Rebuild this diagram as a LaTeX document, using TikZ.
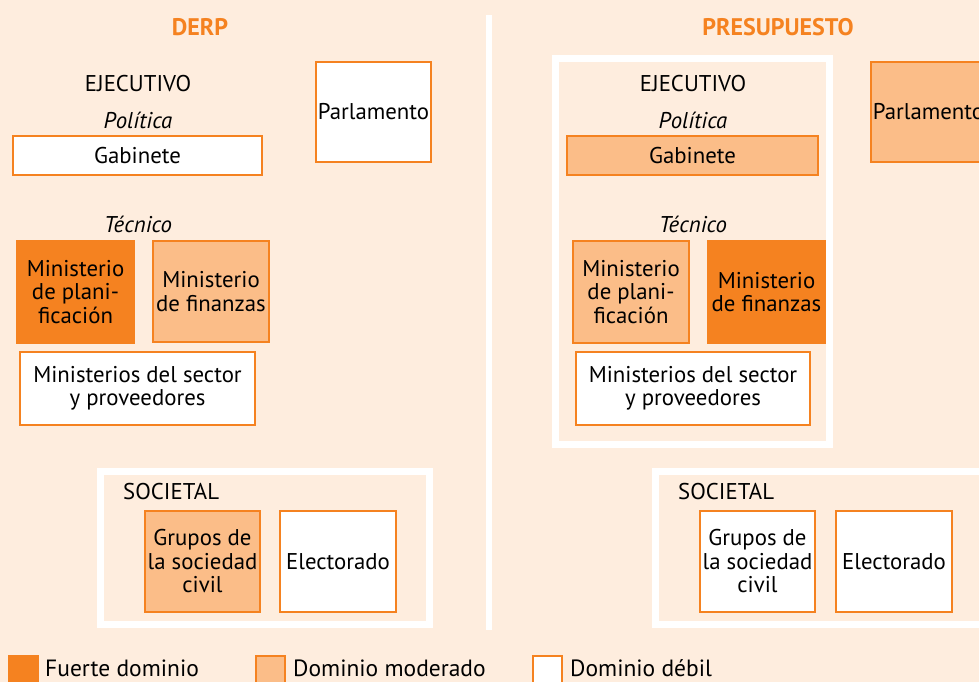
\documentclass[tikz,border=0pt]{standalone}
\usepackage{fontspec}
\setmainfont{PT Sans}
\definecolor{bgpeach}{HTML}{FEEDDE}
\definecolor{strong}{HTML}{F58220}
\definecolor{moderate}{HTML}{FBBD88}
\begin{document}
\begin{tikzpicture}[x=1pt,y=-1pt,
  txt/.style={font=\fontsize{22.8}{23.5}\selectfont, inner sep=0pt},
  ital/.style={txt, font=\fontsize{22.8}{23.5}\selectfont\itshape},
  legtxt/.style={font=\fontsize{23.5}{24}\selectfont, inner sep=0pt},
  ttl/.style={font=\fontsize{24}{26}\selectfont\bfseries, text=strong, inner sep=0pt},
  box/.style={draw=strong, line width=2.2pt, inner sep=0pt, align=center,
    font=\fontsize{22.8}{23.5}\selectfont},
  weakbox/.style={box, fill=white},
  modbox/.style={box, fill=moderate},
  strongbox/.style={box, fill=strong},
  frame/.style={draw=white, line width=7pt},
  legsq/.style={draw=strong, line width=2pt, minimum size=29pt, inner sep=0pt},
]
\useasboundingbox (0,0) rectangle (979,682);
\fill[bgpeach] (0,0) rectangle (979,682);
\clip (0,0) rectangle (979,682);

% separator
\draw[white, line width=6pt] (489,15) coordinate (sepA) -- (489,630) coordinate (sepB);

% titles
\node[ttl] (tDERP) at (200,27) {DERP};
\node[ttl] (tPRES) at (778,27) {PRESUPUESTO};

% ---------- LEFT (DERP) ----------
\node[txt] (lEje) at (138,84) {EJECUTIVO};
\node[ital] (lPol) at (138,120) {Política};
\node[weakbox, minimum width=249pt, minimum height=39pt] (lGab) at (137.5,155.5) {Gabinete};
\node[weakbox, minimum width=115pt, minimum height=100pt] (lParl) at (373.5,112) {Parlamento};
\node[ital] (lTec) at (138,224) {Técnico};
\node[strongbox, minimum width=117pt, minimum height=102pt] (lPlan) at (75.5,292) {Ministerio\\de plani-\\ficación};
\node[modbox, minimum width=116pt, minimum height=101pt] (lFin) at (211,291.5) {Ministerio\\de finanzas};
\node[weakbox, minimum width=235pt, minimum height=73pt] (lSec) at (137.5,388.5) {Ministerios del sector\\y proveedores};

\draw[frame] (100.5,471.5) rectangle (429.5,624.5);
\node[txt, anchor=west] (lSoc) at (123,492) {SOCIETAL};
\node[modbox, minimum width=115pt, minimum height=101pt] (lGru) at (202.5,561.5) {Grupos de\\la sociedad\\civil};
\node[weakbox, minimum width=116pt, minimum height=101pt] (lEle) at (338,561.5) {Electorado};

% ---------- RIGHT (PRESUPUESTO) ----------
\draw[frame] (555.5,58.5) rectangle (829.5,444.5);
\node[txt] (rEje) at (693,84) {EJECUTIVO};
\node[ital] (rPol) at (693,120) {Política};
\node[modbox, minimum width=251pt, minimum height=39pt] (rGab) at (692.5,155.5) {Gabinete};
\node[modbox, minimum width=115pt, minimum height=100pt] (rParl) at (928.5,112) {Parlamento};
\node[ital] (rTec) at (693,224) {Técnico};
\node[modbox, minimum width=116pt, minimum height=102pt] (rPlan) at (631,292) {Ministerio\\de plani-\\ficación};
\node[strongbox, minimum width=117pt, minimum height=102pt] (rFin) at (766.5,292) {Ministerio\\de finanzas};
\node[weakbox, minimum width=234pt, minimum height=73pt] (rSec) at (693,388.5) {Ministerios del sector\\y proveedores};

\draw[frame] (655.5,471.5) rectangle (984.5,624.5);
\node[txt, anchor=west] (rSoc) at (678,492) {SOCIETAL};
\node[weakbox, minimum width=115pt, minimum height=101pt] (rGru) at (757.5,561.5) {Grupos de\\la sociedad\\civil};
\node[weakbox, minimum width=116pt, minimum height=101pt] (rEle) at (894,561.5) {Electorado};

% ---------- LEGEND ----------
\node[legsq, fill=strong] (q1) at (23,670) {};
\node[legtxt, anchor=west] (l1) at (45,668) {Fuerte dominio};
\node[legsq, fill=moderate] (q2) at (270.5,670) {};
\node[legtxt, anchor=west] (l2) at (293,668) {Dominio moderado};
\node[legsq, fill=white] (q3) at (547.5,670) {};
\node[legtxt, anchor=west] (l3) at (570,668) {Dominio débil};
\end{tikzpicture}
\end{document}
